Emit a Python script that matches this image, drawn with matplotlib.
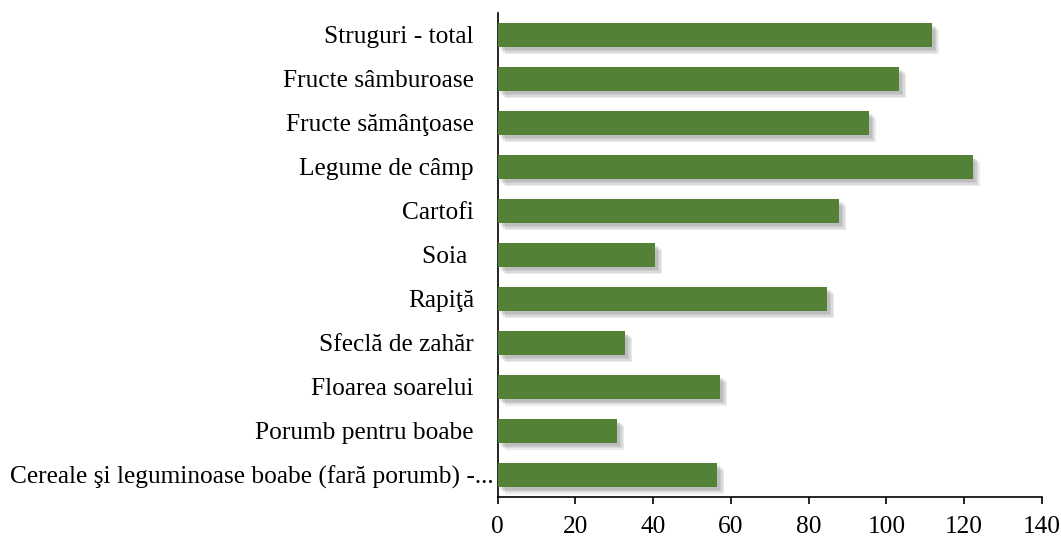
import matplotlib.pyplot as plt
import matplotlib.patheffects as pe
from matplotlib.transforms import ScaledTranslation

# categories listed top to bottom, as in the picture
categories = [
    "Struguri - total",
    "Fructe sâmburoase",
    "Fructe sămânţoase",
    "Legume de câmp",
    "Cartofi",
    "Soia ",
    "Rapiţă",
    "Sfeclă de zahăr",
    "Floarea soarelui",
    "Porumb pentru boabe",
    "Cereale şi leguminoase boabe (fară porumb) -...",
]
values = [111.7, 103.3, 95.5, 122.2, 87.8, 40.5, 84.8, 32.8, 57.2, 30.7, 56.5]
xticks = [0, 20, 40, 60, 80, 100, 120, 140]

plt.rcParams['font.family'] = ['Liberation Serif', 'DejaVu Serif']

fig = plt.figure(figsize=(10.61, 5.40), dpi=100)
ax = fig.add_axes([0.469, 0.080, 0.513, 0.896])

ypos = list(range(len(categories)))[::-1]
bars = ax.barh(ypos, values, height=0.55, color='#538135', zorder=3)
# soft shadow: a few stacked offsets, lower right
shadow = [pe.SimplePatchShadow(offset=(d, -d), shadow_rgbFace='#606060', alpha=0.12)
          for d in (5, 4, 3, 2)]
for b in bars:
    b.set_path_effects(shadow + [pe.Normal()])

ax.set_xlim(0, 140)
ax.set_ylim(-0.5, len(categories) - 0.5)
ax.set_xticks(xticks)
ax.set_xticklabels([str(t) for t in xticks], fontsize=18.3)
ax.set_yticks(ypos)
ax.set_yticklabels(categories, fontsize=18.3)

ax.spines['top'].set_visible(False)
ax.spines['right'].set_visible(False)
ax.spines['left'].set_linewidth(1.2)
ax.spines['bottom'].set_linewidth(1.2)
ax.tick_params(axis='y', length=0, pad=17)
ax.tick_params(axis='x', direction='out', length=5, width=1.2, pad=9)

# the truncated long label runs right up to the axis, like the original
long_lbl = ax.get_yticklabels()[-1]
long_lbl.set_transform(long_lbl.get_transform()
                       + ScaledTranslation(14 / 72, 0, fig.dpi_scale_trans))

fig.savefig('out.png', dpi=100)
